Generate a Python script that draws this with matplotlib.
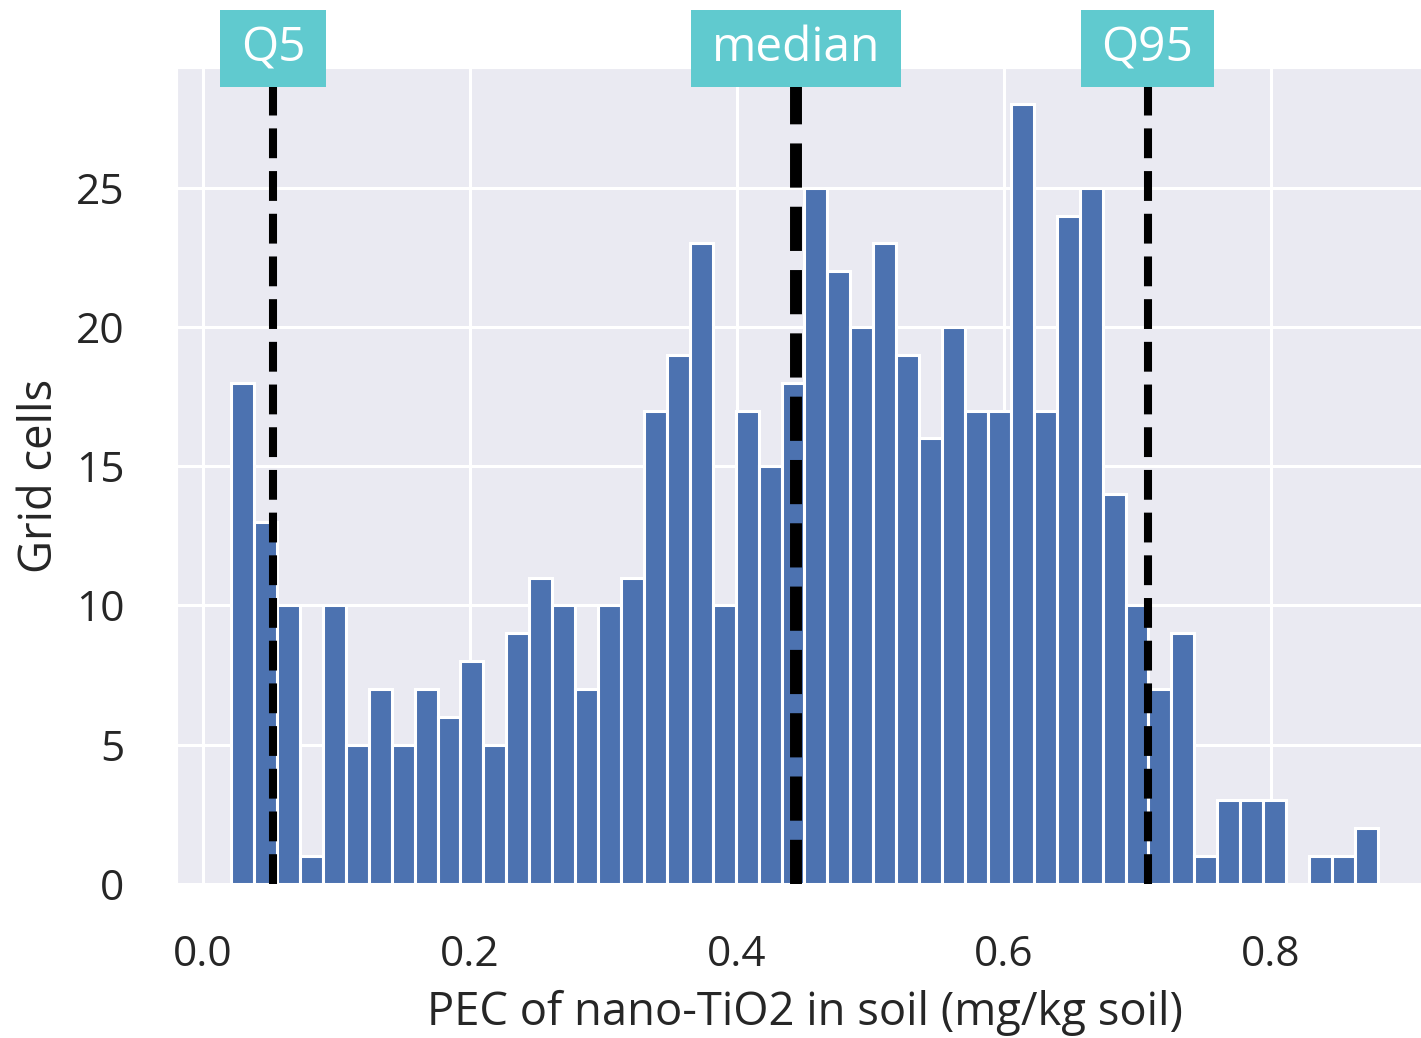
import numpy as np
import matplotlib
matplotlib.use('Agg')
import matplotlib.pyplot as plt
import seaborn as sns

# histogram counts (50 bins)
bin_start = 0.021
bin_end = 0.880
counts = [18, 13, 10, 1, 10, 5, 7, 5, 7, 6,
          8, 5, 9, 11, 10, 7, 10, 11, 17, 19,
          23, 10, 17, 15, 18, 25, 22, 20, 23, 19,
          16, 20, 17, 17, 28, 17, 24, 25, 14, 10,
          7, 9, 1, 3, 3, 3, 0, 1, 1, 2]

# quantile markers
q_names = ['Q5', 'median', 'Q95']
q_values = [0.0524, 0.4442, 0.7075]
q_widths = [5.8, 8.6, 5.8]

xticks = [0.0, 0.2, 0.4, 0.6, 0.8]
yticks = [0, 5, 10, 15, 20, 25]

sns.set_style('darkgrid')
plt.rcParams['font.family'] = ['Open Sans', 'DejaVu Sans']

fig = plt.figure(figsize=(14.21, 10.38), dpi=100)
# axes runs slightly past the right edge of the figure (cropped like the original)
ax = fig.add_axes([0.1246, 0.1484, 0.8838, 0.7861])

edges = np.linspace(bin_start, bin_end, len(counts) + 1)
ax.hist(edges[:-1], bins=edges, weights=counts, color='#4c72b0',
        edgecolor='white', linewidth=2.2)

teal = '#60cacf'
for name, xv, lw in zip(q_names, q_values, q_widths):
    ax.axvline(xv, color='black', linestyle='--', linewidth=lw, zorder=3)
    ax.text(xv, 30.0, name, ha='center', va='center', color='white',
            fontsize=34.5, zorder=5, clip_on=False,
            bbox=dict(facecolor=teal, edgecolor='none',
                      boxstyle='square,pad=0.43', mutation_aspect=0.72))

ax.set_xlim(-0.0195, 0.9213)
ax.set_ylim(0, 29.3)
ax.set_xticks(xticks)
ax.set_xticklabels(['%.1f' % v for v in xticks])
ax.set_yticks(yticks)
ax.grid(color='white', linewidth=2.2)
ax.tick_params(axis='both', labelsize=30.5, colors='#262626', length=0)
ax.tick_params(axis='x', pad=36)
ax.tick_params(axis='y', pad=38)

ax.set_xlabel('PEC of nano-TiO2 in soil (mg/kg soil)', fontsize=32.7,
              color='#262626', labelpad=10)
ax.set_ylabel('Grid cells', fontsize=32.7, color='#262626', labelpad=9)

fig.savefig('out.png', dpi=100)
